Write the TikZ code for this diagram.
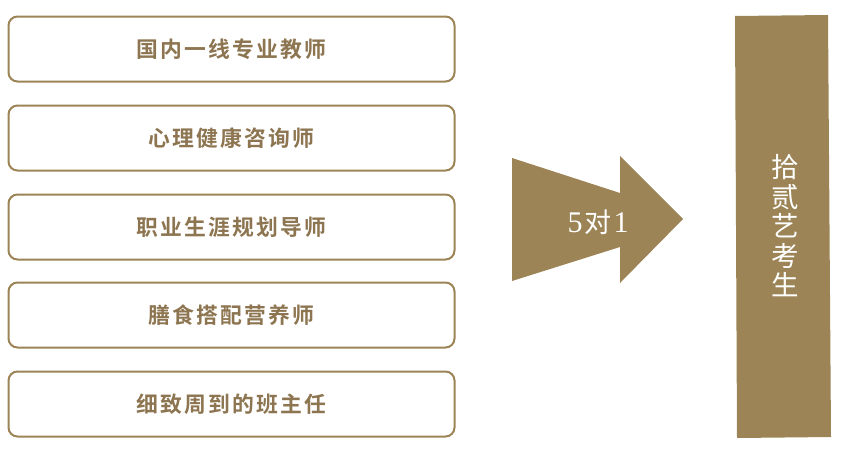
\documentclass[tikz,border=0pt]{standalone}
\usepackage{fontspec}
\newfontfamily\cjkb[BoldFont={* Bold},LetterSpace=10]{Noto Sans CJK SC}
\newfontfamily\cjk{Noto Sans CJK SC}
\newfontfamily\serifd{Liberation Serif}
\definecolor{gold}{HTML}{9C8456}
\definecolor{goldtxt}{HTML}{8C7550}
\begin{document}
\begin{tikzpicture}[x=1pt,y=-1pt,
  card/.style={draw=gold,line width=2pt,rounded corners=9pt,minimum width=446pt,minimum height=65pt,inner sep=0pt,
    font=\cjkb\bfseries\fontsize{21.8}{24}\selectfont,text=goldtxt}]
\useasboundingbox (0,0) rectangle (846,453);
\node[card] (b1) at (231.5,49) {国内一线专业教师};
\node[card] (b2) at (231.5,138) {心理健康咨询师};
\node[card] (b3) at (231.5,227) {职业生涯规划导师};
\node[card] (b4) at (231.5,315) {膳食搭配营养师};
\node[card] (b5) at (231.5,404) {细致周到的班主任};
\fill[gold] (512,158) -- (620,193) -- (620,156) -- (683,219) -- (620,283) -- (620,247) -- (512,281) -- cycle;
\node[text=white,inner sep=0pt] (arr) at (598,222) {\serifd\fontsize{30}{32}\selectfont 5\hspace{2pt}\cjk\fontsize{27}{30}\selectfont 对\hspace{2pt}\serifd\fontsize{30}{32}\selectfont 1};
\fill[gold] (735,16) -- (828,15) -- (831,437) -- (737,438) -- cycle;
\node[text=white,inner sep=0pt,align=center,font=\cjk\fontsize{27.5}{29.5}\selectfont] (bar) at (785,226) {拾\\贰\\艺\\考\\生};
\end{tikzpicture}
\end{document}
